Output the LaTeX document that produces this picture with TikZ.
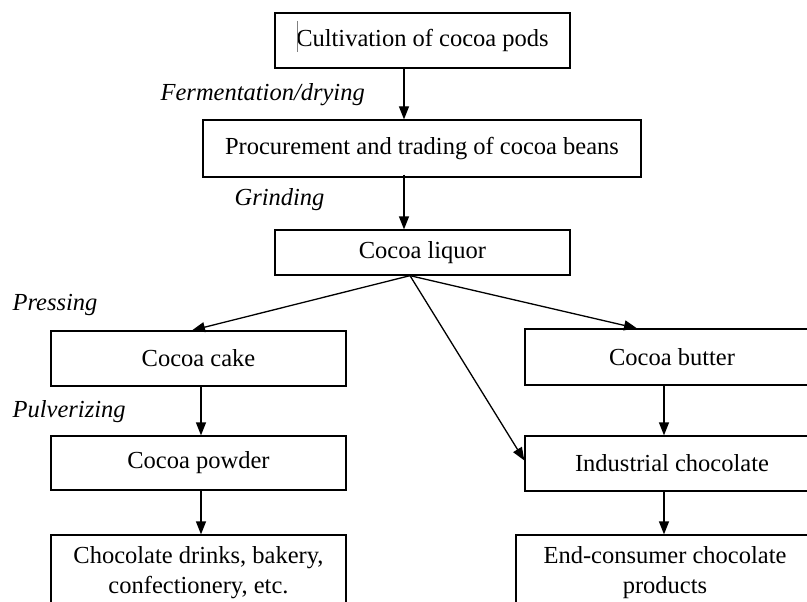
\documentclass[tikz,border=0pt]{standalone}
\usepackage{fontspec}
\setmainfont{Liberation Serif}
\usetikzlibrary{arrows.meta}

\begin{document}
\begin{tikzpicture}[x=1pt,y=-1pt,>={Triangle[length=13pt,width=10pt]},line width=1.3pt]

\tikzset{
  box/.style={draw,line width=1.3pt,inner sep=0pt,align=center,
    font=\fontsize{24.5}{30}\selectfont},
  stagelabel/.style={anchor=west,inner sep=0pt,
    font=\fontsize{24.5}{30}\selectfont\itshape}
}

% Page frame (the chart is cut at the right and bottom edges)
\useasboundingbox (0,0) rectangle (807,602);
\clip (0,0) rectangle (807,602);

% Main chain
\node[box,minimum width=295pt,minimum height=55pt] (cult) at (422.5,40.5) {Cultivation of cocoa pods};
\node[box,minimum width=438pt,minimum height=57pt] (proc) at (422,148.5) {Procurement and trading of cocoa beans};
\node[box,minimum width=295pt,minimum height=45pt] (liquor) at (422.5,252.5) {Cocoa liquor};

% Cursor mark in the first box
\draw[gray,line width=0.8pt] (297,21) -- (297,52);

% Left branch
\node[box,minimum width=295pt,minimum height=55pt] (cake) at (198.5,358.5) {Cocoa cake};
\node[box,minimum width=295pt,minimum height=54pt] (powder) at (198.5,463) {Cocoa powder};
\node[box,minimum width=295pt,minimum height=75pt] (drinks) at (198.5,572.5) {Chocolate drinks, bakery,\\confectionery, etc.};

% Right branch
\node[box,minimum width=294pt,minimum height=56pt] (butter) at (672,357) {Cocoa butter};
\node[box,minimum width=294pt,minimum height=55pt] (indus) at (672,463.5) {Industrial chocolate};
\node[box,minimum width=298pt,minimum height=75pt] (endc) at (665,572.5) {End-consumer chocolate\\products};

% Process labels
\node[stagelabel] (lferm) at (160,95) {Fermentation/drying};
\node[stagelabel] (lgrind) at (234,200) {Grinding};
\node[stagelabel] (lpress) at (12,305) {Pressing};
\node[stagelabel] (lpulv) at (12,412) {Pulverizing};

% Arrows
\draw[->] ([xshift=-18.5pt]cult.south) -- ([xshift=-18pt]proc.north);
\draw[->] ([xshift=-18pt,yshift=3pt]proc.south) -- ([xshift=-18.5pt]liquor.north);
\draw[->] ([xshift=-12.5pt]liquor.south) -- ([xshift=-6.5pt]cake.north);
\draw[->] ([xshift=-12.5pt]liquor.south) -- ([xshift=-35pt]butter.north);
\draw[->] ([xshift=-12.5pt]liquor.south) -- ([yshift=3pt]indus.west);
\draw[->] ([xshift=2.5pt]cake.south) -- ([xshift=2.5pt]powder.north);
\draw[->] ([xshift=2.5pt]powder.south) -- ([xshift=2.5pt]drinks.north);
\draw[->] ([xshift=-8pt]butter.south) -- ([xshift=-8pt]indus.north);
\draw[->] ([xshift=-8pt]indus.south) -- ([xshift=-1pt]endc.north);

\end{tikzpicture}
\end{document}
